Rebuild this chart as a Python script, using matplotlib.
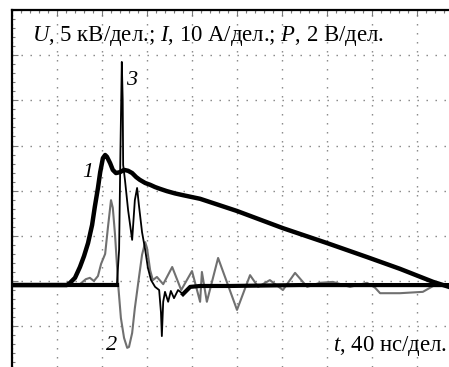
import matplotlib
matplotlib.use("Agg")
import matplotlib.pyplot as plt
from matplotlib.ticker import MultipleLocator

plt.rcParams['font.family'] = ['Liberation Serif', 'DejaVu Serif']
plt.rcParams['mathtext.fontset'] = 'custom'
plt.rcParams['mathtext.rm'] = 'Liberation Serif'
plt.rcParams['mathtext.it'] = 'Liberation Serif:italic'

# all values in screen divisions (t: 40 ns/div, U: 5 kV/div, I: 10 A/div, P: 2 V/div)
# curve 1 - voltage U
u_t = [0, 0.62, 1.22, 1.29, 1.40, 1.51, 1.60, 1.69, 1.78, 1.84, 1.91, 1.96, 2.02, 2.07, 2.11,
       2.18, 2.24, 2.31, 2.40, 2.49, 2.58, 2.67, 2.76, 2.84, 2.96, 3.07, 3.18, 3.29, 3.44, 3.62,
       3.80, 4.18, 5.00, 6.02, 7.00, 7.89, 8.62, 9.36, 9.71]
u_v = [-0.09, -0.09, -0.09, -0.04, 0.07, 0.31, 0.55, 0.84, 1.24, 1.64, 2.06, 2.41, 2.72, 2.79, 2.75,
       2.61, 2.46, 2.39, 2.41, 2.46, 2.44, 2.39, 2.30, 2.24, 2.17, 2.13, 2.08, 2.04, 1.99, 1.94,
       1.90, 1.82, 1.55, 1.17, 0.84, 0.53, 0.27, -0.02, -0.13]

# curve 2 - current I
i_t = [0, 1.07, 1.51, 1.64, 1.73, 1.82, 1.91, 1.98, 2.07, 2.13, 2.20, 2.24, 2.29, 2.36, 2.42,
       2.49, 2.56, 2.60, 2.67, 2.73, 2.82, 2.89, 2.96, 3.00, 3.07, 3.13, 3.22, 3.36, 3.56, 3.76,
       4.00, 4.18, 4.22, 4.33, 4.58, 5.00, 5.29, 5.47, 5.73, 6.02, 6.29, 6.56, 6.84, 7.13, 7.51,
       7.89, 8.07, 8.18, 8.62, 9.13, 9.36, 9.71]
i_v = [-0.09, -0.09, -0.07, 0.04, 0.07, 0.00, 0.11, 0.38, 0.60, 1.17, 1.79, 1.62, 1.02, -0.09, -0.82,
       -1.26, -1.48, -1.46, -1.15, -0.60, 0.07, 0.58, 0.86, 0.73, 0.24, 0.02, 0.09, -0.07, 0.31, -0.20,
       0.22, -0.46, 0.20, -0.46, 0.51, -0.64, 0.13, -0.13, 0.02, -0.20, 0.18, -0.13, -0.04, -0.02, -0.13,
       -0.04, -0.15, -0.27, -0.27, -0.24, -0.11, -0.09]

# curve 3 - photodetector P
p_t = [0, 2.33, 2.38, 2.41, 2.44, 2.46, 2.47, 2.51, 2.58, 2.67, 2.73, 2.78, 2.82, 2.89, 2.96,
       3.02, 3.09, 3.18, 3.27, 3.31, 3.33, 3.36, 3.40, 3.47, 3.53, 3.60, 3.69, 3.80, 3.96, 4.18,
       4.84, 6.40, 8.62, 9.71]
p_v = [-0.09, -0.09, 0.69, 2.90, 4.85, 4.01, 2.57, 2.24, 1.57, 0.91, 1.79, 2.06, 1.68, 1.08, 0.69,
       0.29, 0.02, -0.13, -0.20, -0.69, -1.22, -0.46, -0.24, -0.46, -0.22, -0.38, -0.20, -0.29, -0.13, -0.11,
       -0.11, -0.09, -0.09, -0.09]

fig = plt.figure(figsize=(4.49, 3.67), dpi=100)
ax = fig.add_axes([12 / 449, 0, 1 - 12 / 449, 1 - 10 / 367])
ax.set_xlim(0, 437 / 45)
ax.set_ylim(-86 / 45.17, 6)

ax.xaxis.set_major_locator(MultipleLocator(1))
ax.yaxis.set_major_locator(MultipleLocator(1))
ax.xaxis.set_minor_locator(MultipleLocator(0.2))
ax.yaxis.set_minor_locator(MultipleLocator(0.2))
ax.grid(True, which='major', color='#808080', lw=1.0, linestyle=(0, (1, 5.48)))
ax.tick_params(which='both', direction='in', top=True, bottom=False, left=True, right=False,
               labelbottom=False, labelleft=False, color='#777777', width=0.8)
ax.tick_params(which='major', length=4)
ax.tick_params(which='minor', length=2.5)
for side in ['right', 'bottom']:
    ax.spines[side].set_visible(False)
for side in ['left', 'top']:
    ax.spines[side].set_linewidth(1.6)

ax.plot(i_t, i_v, color='#707070', lw=1.5, solid_joinstyle='round')
ax.plot(p_t, p_v, color='black', lw=1.3, solid_joinstyle='round')
ax.plot(p_t[:2], p_v[:2], color='black', lw=3.0)
ax.plot(p_t[27:], p_v[27:], color='black', lw=3.0)
ax.plot(u_t, u_v, color='black', lw=3.2, solid_joinstyle='round')

ax.text(1.69, 2.40, '1', fontsize=16, style='italic', ha='center', va='center')
ax.text(2.22, -1.42, '2', fontsize=16, style='italic', ha='center', va='center')
ax.text(2.66, 4.45, '3', fontsize=16, style='italic', ha='center', va='center')

fig.text(32 / 449, 1 - 41.5 / 367, r'$U$, 5 кВ/дел.; $I$, 10 А/дел.; $P$, 2 В/дел.',
         fontsize=16.4, ha='left', va='baseline')
fig.text(447 / 449, 1 - 351 / 367, r'$t$, 40 нс/дел.', fontsize=16.4, ha='right', va='baseline')

fig.savefig('out.png', dpi=100)
